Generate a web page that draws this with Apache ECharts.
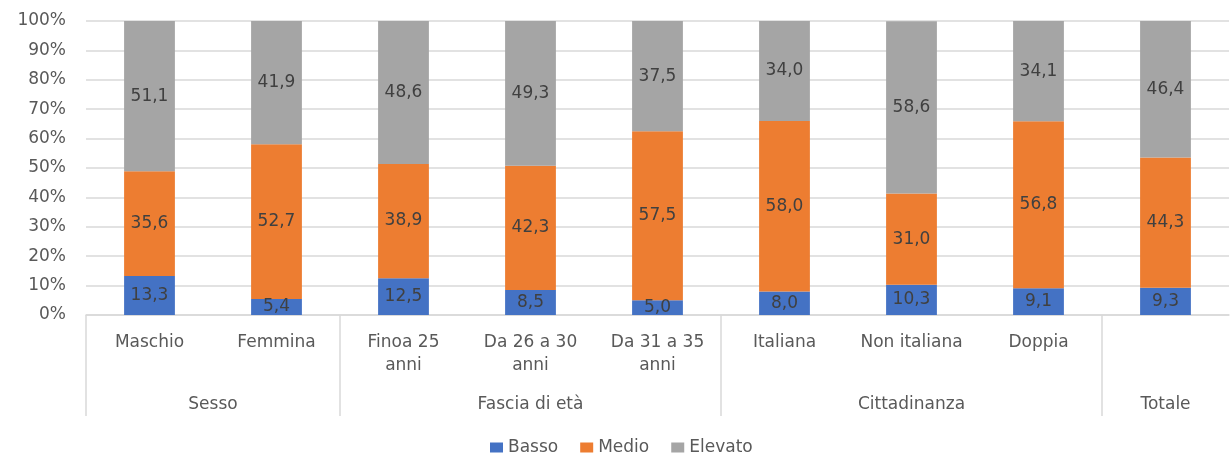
<!DOCTYPE html>
<html><head><meta charset="utf-8">
<script src="https://cdn.jsdelivr.net/npm/echarts@6/dist/echarts.min.js"></script>
<style>html,body{margin:0;padding:0;background:#fff}#c{width:1232px;height:454px}</style>
</head><body><div id="c"></div>
<script>
const categories = ["Maschio","Femmina","Finoa 25\nanni","Da 26 a 30\nanni","Da 31 a 35\nanni","Italiana","Non italiana","Doppia",""];
const basso   = [13.3, 5.4, 12.5, 8.5, 5.0, 8.0, 10.3, 9.1, 9.3];
const medio   = [35.6, 52.7, 38.9, 42.3, 57.5, 58.0, 31.0, 56.8, 44.3];
const elevato = [51.1, 41.9, 48.6, 49.3, 37.5, 34.0, 58.6, 34.1, 46.4];
// group labels on a half-category point axis (19 points)
const groupLabels = ["","","Sesso","","","","","Fascia di età","","","","","","Cittadinanza","","","","Totale",""];
const groupBoundaries = [0,4,10,16];
const yTicks = [0,10,20,30,40,50,60,70,80,90,100];

const FONT = "DejaVu Sans";
const FS = 17;
const chart = echarts.init(document.getElementById('c'));
const lbl = {show:true, position:'inside', color:'#404040', fontSize:FS, fontFamily:FONT,
  formatter: p => p.value.toFixed(1).replace('.', ',')};
function s(name, data, color){
  return {name, type:'bar', stack:'t', data, barWidth:'40%', itemStyle:{color}, label:lbl, xAxisIndex:0};
}
chart.setOption({
  animation:false,
  grid:{left:86, right:0, top:21, bottom:139, containLabel:false},
  legend:{top:437, left:488, padding:[2,2,2,2], itemWidth:13, itemHeight:10, itemGap:22, icon:'rect',
    textStyle:{color:'#595959', fontSize:FS, fontFamily:FONT}},
  xAxis:[
    {type:'category', data:categories, position:'bottom',
     axisLine:{show:true, lineStyle:{color:'#d9d9d9', width:1.5}},
     axisTick:{show:false},
     axisLabel:{interval:0, color:'#595959', fontSize:FS, fontFamily:FONT, margin:16, lineHeight:23}},
    {type:'category', data:groupLabels, position:'bottom', boundaryGap:false,
     axisLine:{show:false},
     axisTick:{show:true, length:101, interval:(i)=>groupBoundaries.includes(i), lineStyle:{color:'#d9d9d9', width:1.5}},
     axisLabel:{interval:0, color:'#595959', fontSize:FS, fontFamily:FONT, margin:81}}
  ],
  yAxis:{type:'value', min:0, max:100, interval:10,
    axisLabel:{formatter:v=>v+'%', color:'#595959', fontSize:FS, fontFamily:FONT, margin:20},
    splitLine:{lineStyle:{color:'#d9d9d9', width:1.5}},
    axisLine:{show:false}, axisTick:{show:false}},
  series:[s('Basso',basso,'#4472C4'), s('Medio',medio,'#ED7D31'), s('Elevato',elevato,'#A5A5A5')]
});
</script></body></html>
